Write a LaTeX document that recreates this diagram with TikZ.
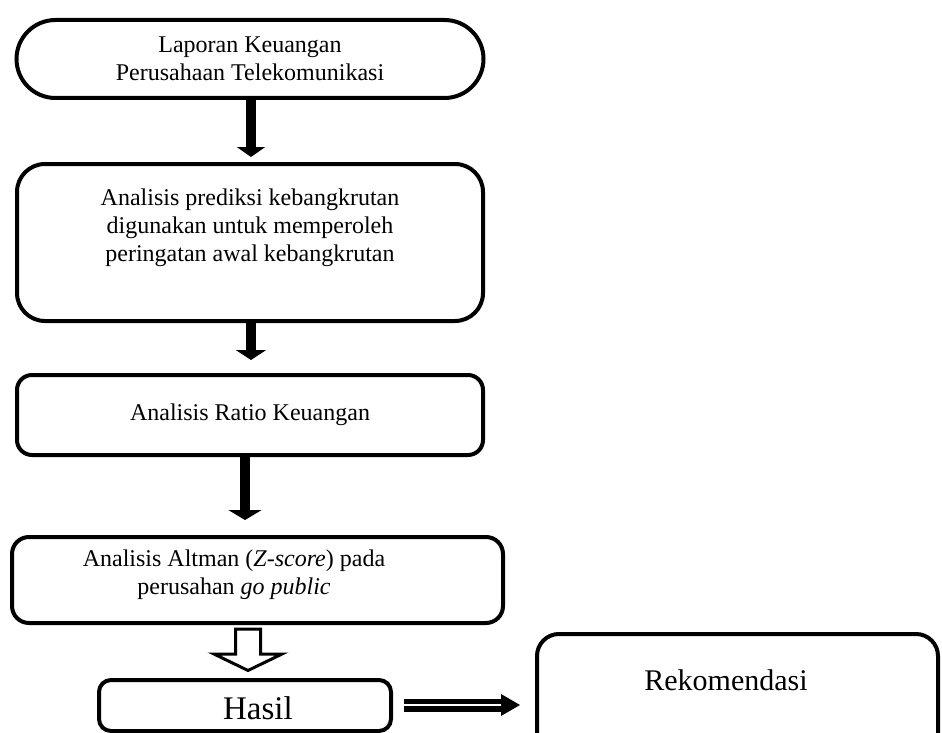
\documentclass[tikz,border=0pt]{standalone}
\usepackage{fontspec}
\setmainfont{Liberation Serif}
\usetikzlibrary{arrows.meta,calc}
\begin{document}
\begin{tikzpicture}[x=1pt,y=1pt,
  box/.style={draw,line width=4pt,inner sep=0pt},
  txt/.style={align=center,inner sep=0pt,font=\fontsize{24}{28}\selectfont},
  big/.style={font=\fontsize{30}{34}\selectfont},
  blk/.style={line width=10pt,-{Triangle[length=10pt,width=30pt]}}]
\useasboundingbox (0,0) rectangle (942,-733);
% boxes
\node[box,rounded corners=39pt,minimum width=467pt,minimum height=78pt,txt] (b1) at (250,-59)
  {Laporan Keuangan\\Perusahaan Telekomunikasi};
\node[box,rounded corners=28pt,minimum width=466pt,minimum height=157pt] (b2) at (250,-242.5) {};
\node[txt] (t2) at (250,-228) {Analisis prediksi kebangkrutan\\digunakan untuk memperoleh\\peringatan awal kebangkrutan};
\node[box,rounded corners=15pt,minimum width=466pt,minimum height=80pt,txt] (b3) at (250,-415) {Analisis Ratio Keuangan};
\node[box,rounded corners=17pt,minimum width=491pt,minimum height=86pt] (b4) at (257.5,-580) {};
\node[txt] (t4) at (234,-575) {Analisis Altman (\textit{Z-score}) pada\\perusahan \textit{go public}};
\node[box,rounded corners=12pt,minimum width=292pt,minimum height=51pt] (b5) at (245,-705.5) {};
\node[inner sep=0pt,font=\fontsize{33}{36}\selectfont] (t5) at (258,-708) {Hasil};
\node[box,rounded corners=22pt,minimum width=401pt,minimum height=136pt] (b6) at (737.5,-702) {};
\node[big,inner sep=0pt] (t6) at (726,-680) {Rekomendasi};
% block arrows
\coordinate (a1s) at ($(b1.south)+(1,0)$);
\coordinate (a1e) at (a1s |- b2.north);
\coordinate (a2s) at ($(b2.south)+(1,0)$);
\coordinate (a2e) at (a2s |- b3.north);
\coordinate (a3s) at ($(b3.south)+(-5,0)$);
\coordinate (a3e) at (a3s |- b4.north);
\draw[line width=10pt,-{Triangle[length=10pt,width=28pt]},shorten >=5pt] (a1s) -- (a1e);
\draw[blk,shorten >=13pt] (a2s) -- (a2e);
\draw[line width=10pt,-{Triangle[length=10pt,width=33pt]},shorten >=15pt] (a3s) -- (a3e);
% hollow arrow
\draw[line width=3pt,fill=white,line join=miter]
  (235.5,-629) -- (260.5,-629) -- (260.5,-654) -- (282,-654) -- (248,-670.5) -- (214,-654) -- (235.5,-654) -- cycle;
% double arrow
\coordinate (d1) at ($(b5.east)+(11,0.5)$);
\coordinate (d2) at ($(d1 -| b6.west)+(-33,0)$);
\draw[double,double distance=2pt,line width=5.5pt] (d1) -- (d2);
\fill ($(d2)+(-1,11)$) -- ($(d2)+(18,0)$) -- ($(d2)+(-1,-11)$) -- cycle;
\end{tikzpicture}
\end{document}
